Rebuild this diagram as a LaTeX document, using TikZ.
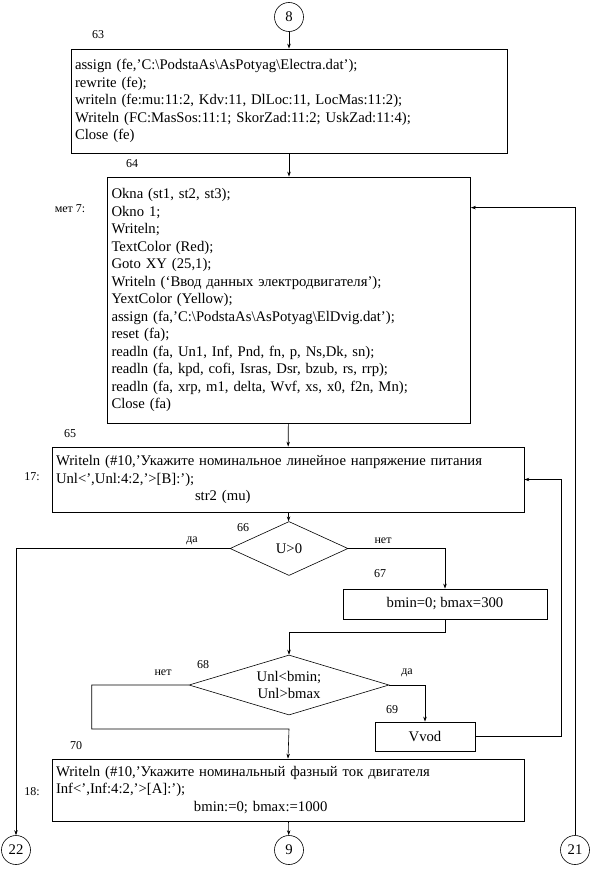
\documentclass[tikz,border=0pt]{standalone}
\usepackage{fontspec}
\setmainfont{Liberation Serif}
\usetikzlibrary{arrows.meta,positioning,shapes.geometric}

\begin{document}
\begin{tikzpicture}[x=1pt,y=-1pt,>={Stealth[length=5pt,width=3.5pt]},
  every node/.style={font=\fontsize{14.7}{17.5}\selectfont},
  block/.style={draw,line width=0.8pt,align=left,inner sep=4pt},
  cond/.style={draw,diamond,inner sep=0pt,line width=0.6pt},
  conn/.style={draw,circle,minimum size=29pt,inner sep=0pt,line width=0.6pt},
  num/.style={font=\fontsize{12}{14}\selectfont},
  line/.style={->,line width=0.6pt}]
\useasboundingbox (0,0) rectangle (594,870);
% connectors on the page
\node[conn] (c8) at (289,17) {8};
\node[conn] (c9) at (289,850) {9};
\node[conn] (c22) at (16,850) {22};
\node[conn] (c21) at (575,850) {21};
% blocks
\node[block,text width=428pt,minimum height=104pt] (b63) at (289,101) {%
assign (fe,’C:\textbackslash PodstaAs\textbackslash AsPotyag\textbackslash Electra.dat’);\\
rewrite (fe);\\
writeln (fe:mu:11:2, Kdv:11, DlLoc:11, LocMas:11:2);\\
Writeln (FC:MasSos:11:1; SkorZad:11:2; UskZad:11:4);\\
Close (fe)};
\node[block,text width=355pt,minimum height=246pt] (b64) at (289,300) {%
Okna (st1, st2, st3);\\
Okno 1;\\
Writeln;\\
TextColor (Red);\\
Goto XY (25,1);\\
Writeln (‘Ввод данных электродвигателя’);\\
YextColor (Yellow);\\
assign (fa,’C:\textbackslash PodstaAs\textbackslash AsPotyag\textbackslash ElDvig.dat’);\\
reset (fa);\\
readln (fa, Un1, Inf, Pnd, fn, p, Ns,Dk, sn);\\
readln (fa, kpd, cofi, Isras, Dsr, bzub, rs, rrp);\\
readln (fa, xrp, m1, delta, Wvf, xs, x0, f2n, Mn);\\
Close (fa)};
\node[block,text width=464pt,minimum height=65pt] (b65) at (288,479.5) {%
Writeln (\#10,’Укажите номинальное линейное напряжение питания\\
Unl<’,Unl:4:2,’>[B]:’);\\
\hspace*{139pt}str2 (mu)};
\node[cond,minimum width=118pt,minimum height=54pt,aspect=2.2] (d66) at (289,548.5) {U>0};
\node[block,align=center,minimum width=204pt,minimum height=30pt] (b67) at (445,604) {bmin=0; bmax=300};
\node[cond,align=center,minimum width=200pt,minimum height=60pt,aspect=3.3] (d68) at (289,685) {Unl<bmin;\\Unl>bmax};
\node[block,align=center,minimum width=100pt,minimum height=29pt] (vvod) at (425,736.5) {Vvod};
\node[block,text width=464pt,minimum height=62pt] (b70) at (288,790) {%
Writeln (\#10,’Укажите номинальный фазный ток двигателя\\
Inf<’,Inf:4:2,’>[A]:’);\\
\hspace*{138pt}bmin:=0; bmax:=1000};
\coordinate (j70) at (289,729);
% numbers and marks
\node[num] (n63) at (98,35) {63};
\node[num] (n64) at (132,164) {64};
\node[num] (m7) at (70,209) {мет 7:};
\node[num] (n65) at (70,434) {65};
\node[num] (m17) at (32,477) {17:};
\node[num] (n66) at (243,528) {66};
\node[num] (yes66) at (192,541) {да};
\node[num] (no66) at (383,541) {нет};
\node[num] (n67) at (380,574) {67};
\node[num] (n68) at (203,665) {68};
\node[num] (no68) at (163,673) {нет};
\node[num] (yes68) at (407,673) {да};
\node[num] (n69) at (392,710) {69};
\node[num] (n70) at (76,746) {70};
\node[num] (m18) at (32,792) {18:};
% flow
\draw[line] (c8) -- (b63); \draw[line] (b63) -- (b64);
\draw[line] (b64) -- (b65); \draw[line] (b65) -- (d66);
\draw[line] (d66.west) -| (c22.north);
\draw[line] (d66.east) -| (b67.north);
\draw[line] (b67.south) -- ++(0,13) -| (d68.north);
\draw[line] (d68.west) -- ++(-97,0) |- (j70) -- (b70.north);
\draw[line] (d68.east) -| (vvod.north);
\draw[line] (vvod.east) -- ++(86,0) |- (b65.east);
\draw[line] (c21.north) |- ([yshift=-31pt]b64.north east);
\draw[line] (b70) -- (c9);
\end{tikzpicture}
\end{document}
